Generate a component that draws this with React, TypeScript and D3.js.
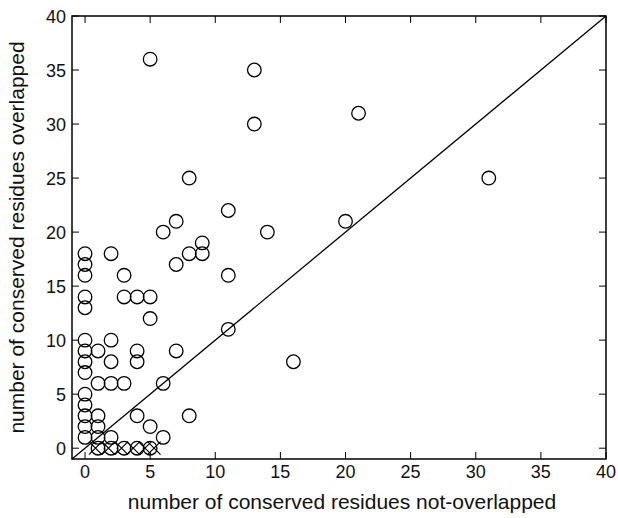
import React, {useEffect, useRef} from 'react'
import * as d3 from 'd3'

// circle markers: not-overlapped (x) vs overlapped (y)
const circleX = [5, 13, 13, 21, 31, 8, 11, 14, 20, 7, 6, 9, 9, 8, 7, 11, 11, 16, 0, 0, 0, 0, 0, 2, 3, 3, 4, 5, 5, 0, 0, 0, 0, 1, 2, 2, 4, 4, 7, 1, 2, 3, 6, 0, 0, 0, 1, 0, 1, 0, 1, 2, 4, 5, 6, 8, 1, 2, 3, 4, 5]
const circleY = [36, 35, 30, 31, 25, 25, 22, 20, 21, 21, 20, 19, 18, 18, 17, 16, 11, 8, 18, 17, 16, 14, 13, 18, 16, 14, 14, 14, 12, 10, 9, 8, 7, 9, 10, 8, 9, 8, 9, 6, 6, 6, 6, 5, 4, 3, 3, 2, 2, 1, 1, 1, 3, 2, 1, 3, 0, 0, 0, 0, 0]

// cross markers along the bottom
const crossX = [0.8, 1.8, 2.8, 3.7, 4.6, 5.3]
const crossY = [0, 0, 0, 0, 0, 0]

const ticks = [0, 5, 10, 15, 20, 25, 30, 35, 40]

export default function App() {
  const ref = useRef<SVGSVGElement>(null)

  useEffect(() => {
    const svg = d3.select(ref.current)
    svg.selectAll('*').remove()

    const left = 72, right = 606, top = 16, bottom = 459
    const x = d3.scaleLinear().domain([-1, 40]).range([left, right])
    const y = d3.scaleLinear().domain([-1, 40]).range([bottom, top])
    const font = 'Liberation Sans, Arial, sans-serif'

    // frame
    svg.append('rect')
      .attr('x', left).attr('y', top)
      .attr('width', right - left).attr('height', bottom - top)
      .attr('fill', 'none').attr('stroke', '#000').attr('stroke-width', 1.5)

    // inward ticks on all sides
    const tl = 7
    ticks.forEach(t => {
      svg.append('line').attr('x1', x(t)).attr('x2', x(t)).attr('y1', bottom).attr('y2', bottom - tl).attr('stroke', '#000')
      svg.append('line').attr('x1', x(t)).attr('x2', x(t)).attr('y1', top).attr('y2', top + tl).attr('stroke', '#000')
      svg.append('line').attr('y1', y(t)).attr('y2', y(t)).attr('x1', left).attr('x2', left + tl).attr('stroke', '#000')
      svg.append('line').attr('y1', y(t)).attr('y2', y(t)).attr('x1', right).attr('x2', right - tl).attr('stroke', '#000')
    })

    // tick labels
    svg.selectAll('text.xt').data(ticks).enter().append('text')
      .attr('class', 'xt')
      .attr('x', d => x(d)).attr('y', bottom + 19)
      .attr('text-anchor', 'middle')
      .attr('font-family', font).attr('font-size', 18).attr('fill', '#111')
      .text(d => d)
    svg.selectAll('text.yt').data(ticks).enter().append('text')
      .attr('class', 'yt')
      .attr('x', left - 6).attr('y', d => y(d) + 6.5)
      .attr('text-anchor', 'end')
      .attr('font-family', font).attr('font-size', 18).attr('fill', '#111')
      .text(d => d)

    // axis titles
    svg.append('text')
      .attr('x', 342).attr('y', 509)
      .attr('text-anchor', 'middle')
      .attr('font-family', font).attr('font-size', 21).attr('fill', '#111')
      .text('number of conserved residues not-overlapped')
    svg.append('text')
      .attr('transform', `translate(24,${(top + bottom) / 2}) rotate(-90)`)
      .attr('text-anchor', 'middle')
      .attr('font-family', font).attr('font-size', 21).attr('fill', '#111')
      .text('number of conserved residues overlapped')

    // diagonal y = x
    svg.append('line')
      .attr('x1', x(-1)).attr('y1', y(-1)).attr('x2', x(40)).attr('y2', y(40))
      .attr('stroke', '#000').attr('stroke-width', 1.3)

    // circles
    svg.selectAll('circle.pt').data(circleX).enter().append('circle')
      .attr('class', 'pt')
      .attr('cx', d => x(d)).attr('cy', (d, i) => y(circleY[i]))
      .attr('r', 6.8)
      .attr('fill', 'none').attr('stroke', '#000').attr('stroke-width', 1.3)

    // crosses
    const cs = 6.5
    crossX.forEach((cx, i) => {
      const px = x(cx), py = y(crossY[i])
      svg.append('path')
        .attr('d', `M${px - cs},${py - cs}L${px + cs},${py + cs}M${px - cs},${py + cs}L${px + cs},${py - cs}`)
        .attr('stroke', '#000').attr('stroke-width', 1.2).attr('fill', 'none')
    })
  }, [])

  return (
    <svg ref={ref} width={618} height={518} style={{position: 'absolute', left: 0, top: 0, background: '#fff'}}></svg>
  )
}
